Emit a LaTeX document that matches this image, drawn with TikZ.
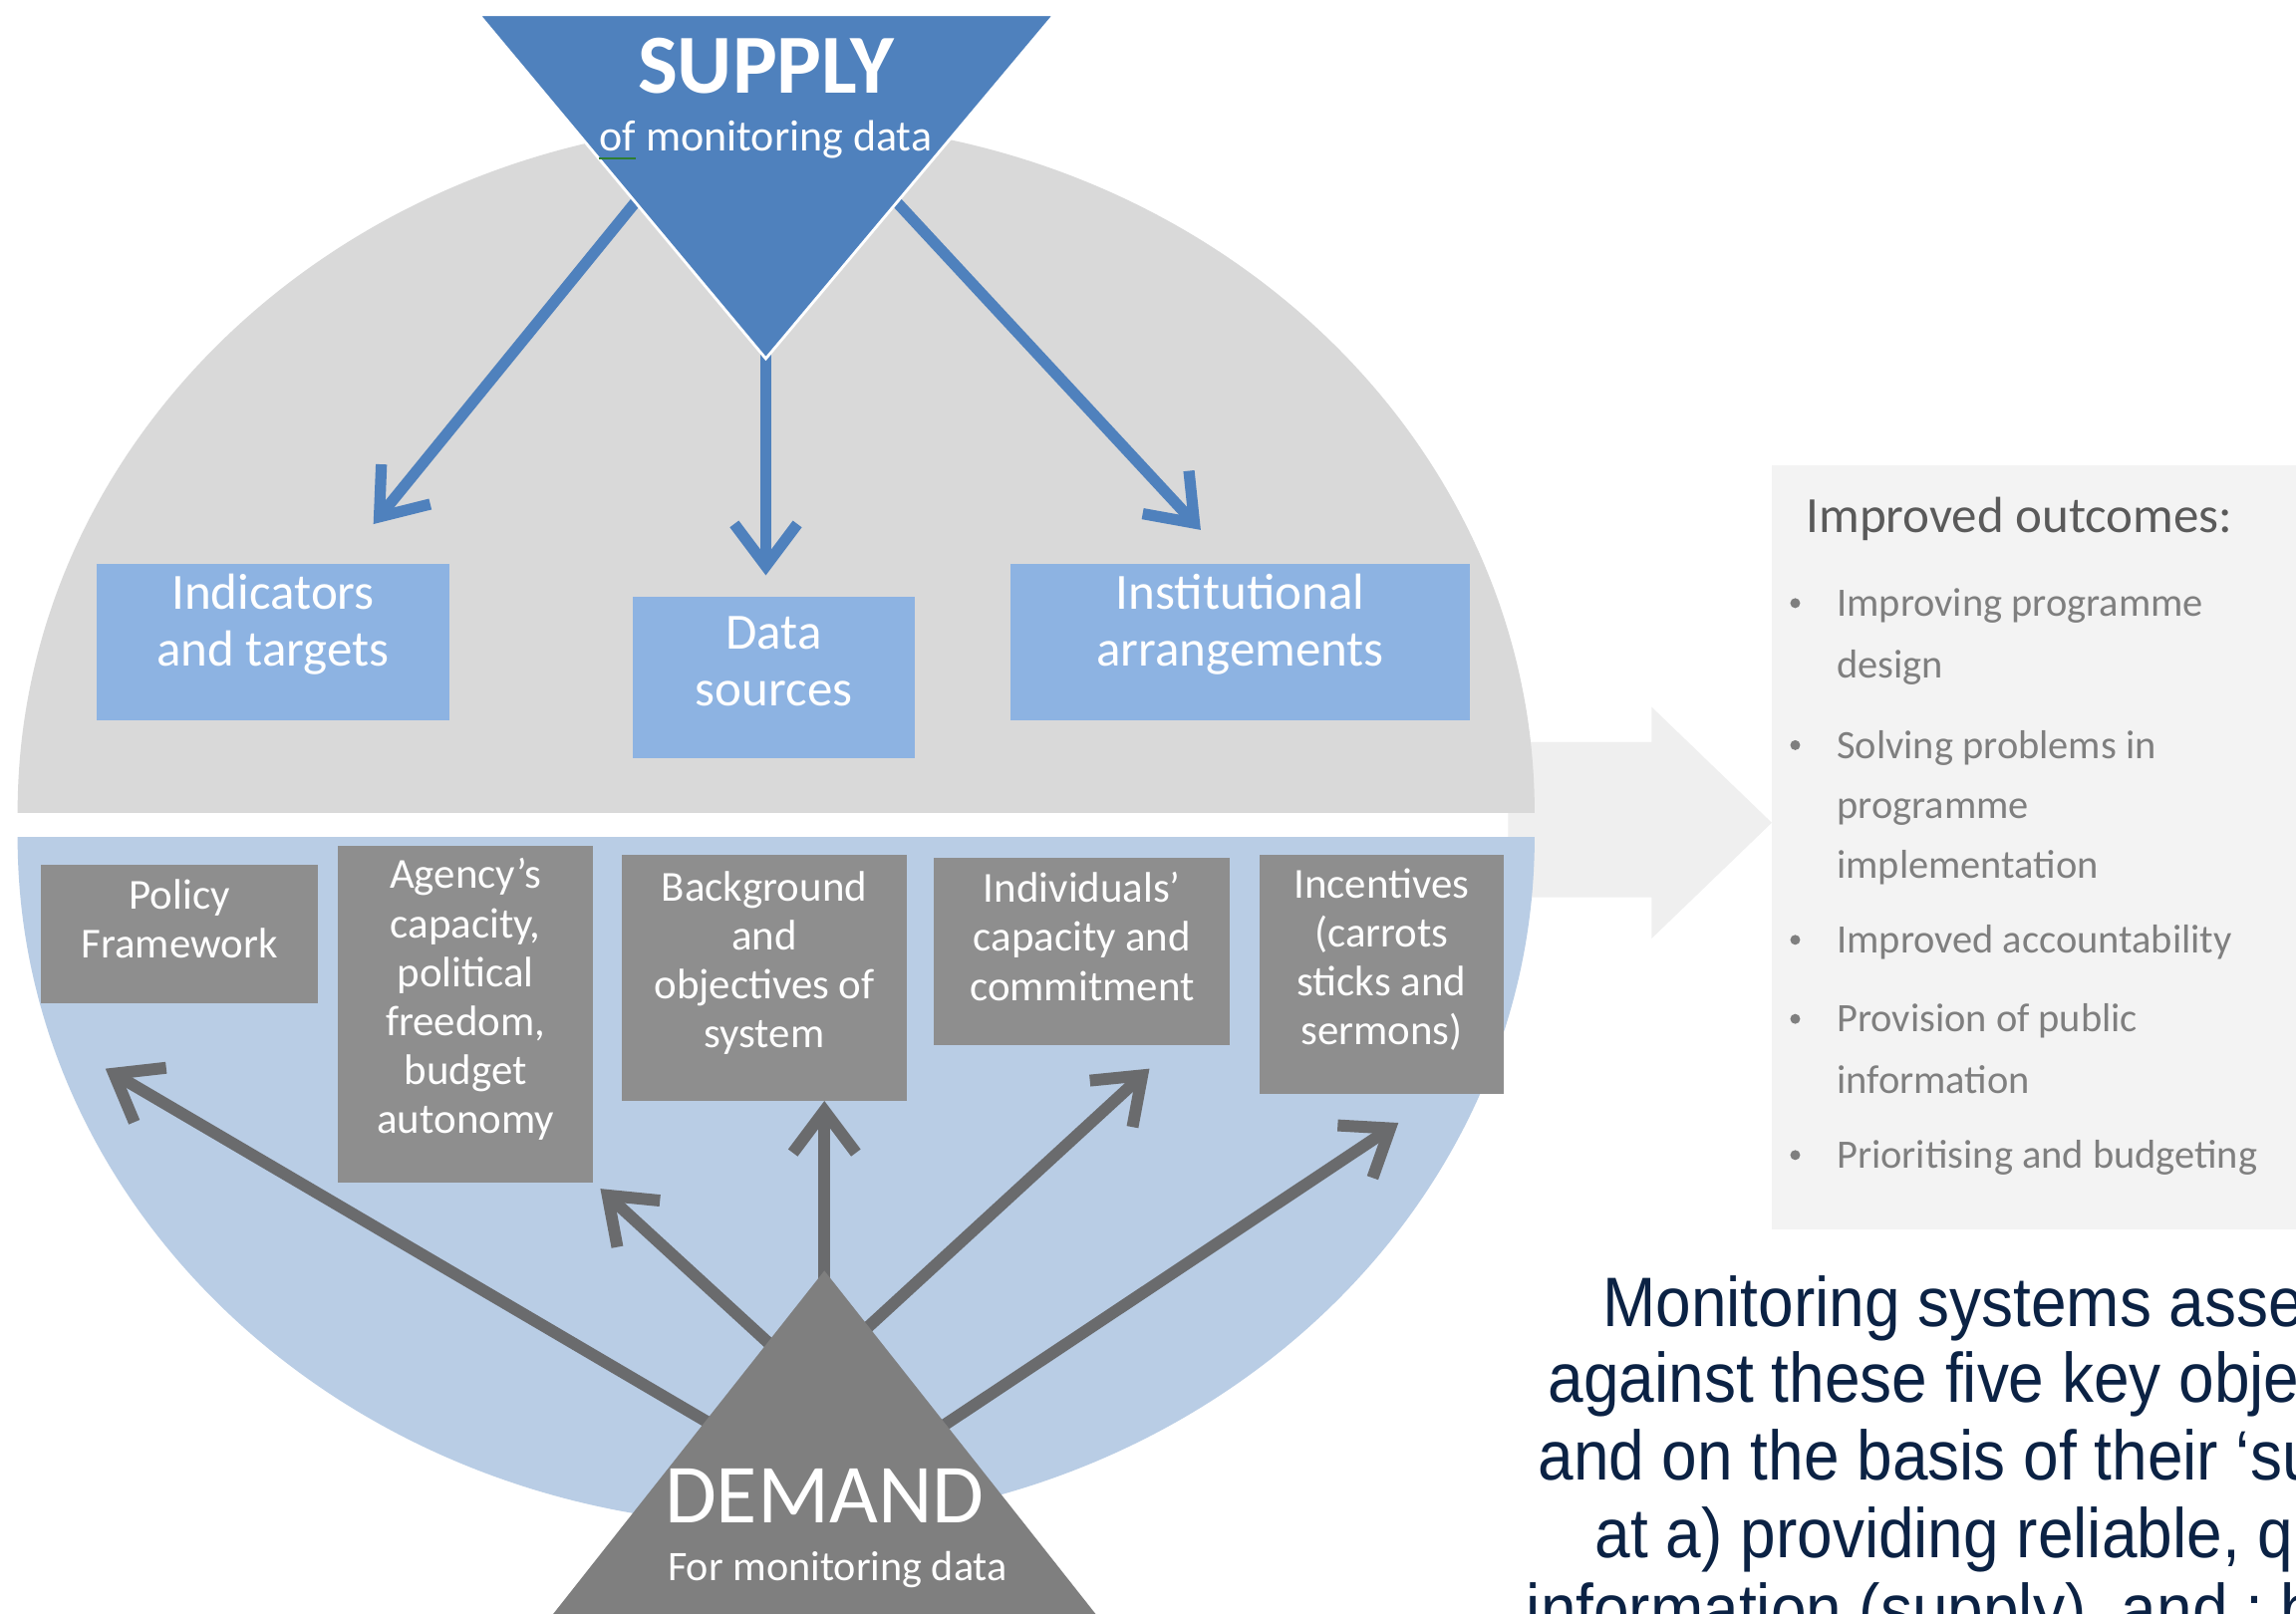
\documentclass[tikz,border=0pt]{standalone}
\usepackage{fontspec}
\setmainfont{Carlito}
\newfontfamily\parafont[FakeStretch=0.91]{Liberation Sans}
\usetikzlibrary{arrows.meta,fit}

\definecolor{supplyblue}{HTML}{4F81BD}
\definecolor{boxblue}{HTML}{8DB3E2}
\definecolor{halfgray}{HTML}{D9D9D9}
\definecolor{halfblue}{HTML}{B9CDE5}
\definecolor{boxgray}{HTML}{8E8E8E}
\definecolor{demandgray}{HTML}{7F7F7F}
\definecolor{arrowgray}{HTML}{6A6B6D}
\definecolor{panelgray}{HTML}{F3F3F3}
\definecolor{bigarrow}{HTML}{EFEFEF}
\definecolor{paneltext}{HTML}{7F7F7F}
\definecolor{paneltitle}{HTML}{5A5A5A}
\definecolor{navy}{HTML}{0B2244}
\definecolor{spellgreen}{HTML}{2E7D32}

\begin{document}
\begin{tikzpicture}[x=0.014694cm, y=-0.014694cm,
  topbox/.style={fill=boxblue, inner sep=0pt, text=white, align=center,
    font=\fontsize{14.5}{16.3}\selectfont},
  lowbox/.style={fill=boxgray, inner sep=0pt, text=white, align=center,
    font=\fontsize{12.2}{14}\selectfont},
  supplyarrow/.style={draw=supplyblue, line width=3.2pt,
    -{Straight Barb[length=12pt, width=18pt]}},
  demandarrow/.style={draw=arrowgray, line width=3.4pt,
    -{Straight Barb[length=12pt, width=18pt]}},
  itemtext/.style={anchor=base west, inner sep=0pt, text=paneltext,
    font=\fontsize{11.5}{14}\selectfont},
  paraline/.style={anchor=base west, inner sep=0pt, text=navy,
    font=\parafont\fontsize{20}{22}\selectfont},
  bulletdot/.style={fill=paneltext},
]
\useasboundingbox (0,0) rectangle (1568,1102);
\fill[white] (0,0) rectangle (1568,1102);

\begin{scope}
\clip (0,0) rectangle (1568,1102);

% broad arrow pointing to the outcomes panel
\fill[bigarrow] (1030,507) -- (1128,507) -- (1128,483) -- (1210,562)
  -- (1128,641) -- (1128,613) -- (1030,613) -- cycle;

% upper (supply) and lower (demand) halves of the disc
\begin{scope}
  \clip (0,0) rectangle (1568,555);
  \fill[halfgray] (530,555) ellipse[x radius=518, y radius=472];
\end{scope}
\begin{scope}
  \clip (0,572) rectangle (1568,1102);
  \fill[halfblue] (530,572) ellipse[x radius=518, y radius=470];
\end{scope}

% supply components
\node[topbox, fit={(66,385) (307,492)}] (ind) {Indicators\\and targets};
\node[topbox, fit={(432,408) (625,518)}] (dat) {Data\\sources};
\node[topbox, fit={(690,385) (1004,492)}] (ins) {Institutional\\arrangements};

% supply arrows
\coordinate (sL) at (443,127);
\coordinate (sM) at (523,225);
\coordinate (sR) at (603,128);
\coordinate (tL) at (255,358);
\coordinate (tM) at (523,393);
\coordinate (tR) at (820,362);
\draw[supplyarrow] (sL) -- (tL);
\draw[supplyarrow] (sM) -- (tM);
\draw[supplyarrow] (sR) -- (tR);

% supply triangle
\filldraw[fill=supplyblue, draw=white, line width=0.8pt]
  (327,10) -- (720,10) -- (523,245) -- cycle;
\node[inner sep=0pt, text=white, font=\bfseries\fontsize{24}{28}\selectfont]
  (supply) at (523,45) {SUPPLY};
\node[inner sep=0pt, text=white, font=\fontsize{12.5}{15}\selectfont]
  (supplysub) at (523,95) {of monitoring data};
\draw[spellgreen, line width=0.7pt]
  ([yshift=-2.2pt]supplysub.base west) -- ++(25,0);

% demand components
\node[lowbox, fit={(28,591) (217,685)}] (pol) {Policy\\Framework};
\node[lowbox, fit={(231,578) (405,808)}] (age)
  {Agency’s\\capacity,\\political\\freedom,\\budget\\autonomy};
\node[lowbox, fit={(425,584) (619,752)}] (bac)
  {Background\\and\\objectives of\\system};
\node[lowbox, fit={(638,586) (840,714)}] (idv)
  {Individuals’\\capacity and\\commitment};
\node[lowbox, fit={(860,584) (1027,747)}] (inc)
  {Incentives\\(carrots\\sticks and\\sermons)};

% demand arrows
\coordinate (d1) at (491,976);
\coordinate (d2) at (531,923);
\coordinate (d3) at (563,885);
\coordinate (d4) at (589,910);
\coordinate (d5) at (638,978);
\coordinate (e1) at (72,730);
\coordinate (e2) at (410,812);
\coordinate (e3) at (563,752);
\coordinate (e4) at (785,730);
\coordinate (e5) at (955,767);
\draw[demandarrow] (d1) -- (e1);
\draw[demandarrow] (d2) -- (e2);
\draw[demandarrow] (d3) -- (e3);
\draw[demandarrow] (d4) -- (e4);
\draw[demandarrow] (d5) -- (e5);

% demand triangle
\fill[demandgray] (563,868) -- (360,1125) -- (766,1125) -- cycle;
\node[inner sep=0pt, text=white, font=\fontsize{24}{28}\selectfont]
  (demand) at (563,1022) {DEMAND};
\node[inner sep=0pt, text=white, font=\fontsize{12}{14}\selectfont]
  (demandsub) at (572,1072) {For monitoring data};

% outcomes panel
\node[fit={(1210,318) (1568,840)}, fill=panelgray, inner sep=0pt] (panel) {};
\node[anchor=base west, inner sep=0pt, text=paneltitle,
  font=\fontsize{14.5}{17}\selectfont] (otitle) at (1233,364) {Improved outcomes:};
\node[itemtext] (o1) at (1254,421) {Improving programme};
\node[itemtext] (o2) at (1254,463) {design};
\node[itemtext] (o3) at (1254,518) {Solving problems in};
\node[itemtext] (o4) at (1254,559) {programme};
\node[itemtext] (o5) at (1254,600) {implementation};
\node[itemtext] (o6) at (1254,651) {Improved accountability};
\node[itemtext] (o7) at (1254,705) {Provision of public};
\node[itemtext] (o8) at (1254,747) {information};
\node[itemtext] (o9) at (1254,798) {Prioritising and budgeting};
\foreach \yy in {412,509,642,696,789}
  \fill[bulletdot] (1226,\yy) circle[radius=3.4];

% explanatory text
\node[paraline] (p1) at (1094,906) {Monitoring systems asse};
\node[paraline] (p2) at (1057,958) {against these five key obje};
\node[paraline] (p3) at (1050,1011) {and on the basis of their ‘su};
\node[paraline] (p4) at (1089,1064) {at a) providing reliable, q};
\node[paraline] (p5) at (1042,1116) {information (supply), and ; b};
\end{scope}
\end{tikzpicture}
\end{document}
